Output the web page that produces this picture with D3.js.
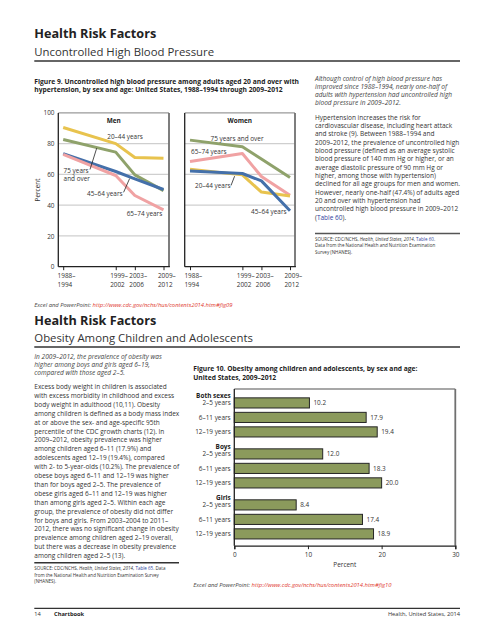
<!DOCTYPE html>
<html><head><meta charset="utf-8">
<script src="https://cdn.jsdelivr.net/npm/d3@7"></script>
<style>html,body{margin:0;padding:0;background:#fff;} svg{display:block;}</style>
</head><body>
<script>
// ---------------- DATA ----------------
const periods = ["1988–1994","1999–2002","2003–2006","2009–2012"];
const periodStart = [1988, 1999, 2003, 2009];
const ageLabels = ["20–44 years","45–64 years","65–74 years","75 years and over"];
const men_20_44 = [90.5, 80.0, 71.0, 70.5];
const men_45_64 = [73.5, 61.9, 57.1, 50.2];
const men_65_74 = [73.0, 59.3, 46.3, 37.0];
const men_75up  = [82.7, 74.5, 59.7, 49.5];
const women_20_44 = [63.4, 59.7, 48.5, 46.0];
const women_45_64 = [62.3, 60.6, 55.8, 36.4];
const women_65_74 = [68.4, 73.6, 58.6, 46.5];
const women_75up  = [82.3, 78.0, 70.0, 58.0];
const yTicks = [0, 20, 40, 60, 80, 100];

const obGroups = ["Both sexes", "Boys", "Girls"];
const obAges = ["2–5 years", "6–11 years", "12–19 years"];
const obBoth  = [10.2, 17.9, 19.4];
const obBoys  = [12.0, 18.3, 20.0];
const obGirls = [8.4, 17.4, 18.9];
const xTicksBar = [0, 10, 20, 30];

// ---------------- SETUP ----------------
const W = 494, H = 640;
const FONT = "'Open Sans', 'Noto Sans', sans-serif";
const svg = d3.select("body").append("svg").attr("width", W).attr("height", H);
svg.append("rect").attr("width", W).attr("height", H).attr("fill", "#fff");

function measure(str, weight, style) {
  const t = svg.append("text").attr("font-family", FONT).attr("font-size", 100)
    .attr("font-weight", weight || 400).attr("font-style", style || "normal").text(str);
  const w = t.node().getComputedTextLength(); t.remove(); return w;
}
function fit(str, target, weight, style) { return 100 * target / measure(str, weight, style); }

function txt(g, x, y, str, o) {
  o = o || {};
  return g.append("text").attr("x", x).attr("y", y).attr("font-family", FONT)
    .attr("font-size", o.size).attr("font-weight", o.weight || 400)
    .attr("font-style", o.style || "normal").attr("fill", o.fill || "#333")
    .attr("text-anchor", o.anchor || "start").text(str);
}
function rich(g, x, y, segs, size, baseStyle, baseFill) {
  const t = g.append("text").attr("x", x).attr("y", y).attr("font-family", FONT)
    .attr("font-size", size).attr("fill", baseFill || "#333").attr("font-style", baseStyle || "normal");
  segs.forEach(s => {
    const sp = t.append("tspan").text(s[0]);
    if (s[1] === "i") sp.attr("font-style", "italic");
    if (s[1] === "b") sp.attr("font-weight", 700);
    if (s[1] === "blue") sp.attr("fill", "#2f3f9e");
    if (s[1] === "red") sp.attr("fill", "#e0382e");
  });
  return t;
}
function hline(x1, x2, y, c, w) {
  svg.append("line").attr("x1", x1).attr("x2", x2).attr("y1", y).attr("y2", y).attr("stroke", c).attr("stroke-width", w);
}
function vline(x, y1, y2, c, w) {
  svg.append("line").attr("x1", x).attr("x2", x).attr("y1", y1).attr("y2", y2).attr("stroke", c).attr("stroke-width", w);
}

const sTitle = fit("Health Risk Factors", 122, 700);
const sSub = fit("Uncontrolled High Blood Pressure", 180);
const sCap = fit("Figure 9. Uncontrolled high blood pressure among adults aged 20 and over with", 265, 700);
const sBody = fit("with 2- to 5-year-olds (10.2%). The prevalence of", 145);
const sItal = fit("adults with hypertension had uncontrolled high", 137.3, 400, "italic");
const sSrc = fit("SOURCE: CDC/NCHS, Health, United States, 2014, Table 65. Data", 134.7);
const sAxis = fit("65–74 years", 35.6);
const sExcel = fit("Excel and PowerPoint: http://www.cdc.gov/nchs/hus/contents2014.htm#fig09", 198.4, 400, "italic");
const sFoot = fit("Health, United States, 2014", 72.3);

const L = 34.3, R = 460;

// ---------------- SECTION 1 HEADER ----------------
txt(svg, L, 38.3, "Health Risk Factors", {size: sTitle, weight: 700, fill: "#222"});
txt(svg, L, 55.5, "Uncontrolled High Blood Pressure", {size: sSub, fill: "#333"});
hline(L, R, 61, "#333", 1.3);
txt(svg, L, 83.5, "Figure 9. Uncontrolled high blood pressure among adults aged 20 and over with", {size: sCap, weight: 700, fill: "#222"});
txt(svg, L, 92.2, "hypertension, by sex and age: United States, 1988–1994 through 2009–2012", {size: sCap, weight: 700, fill: "#222"});

const rItal = ["Although control of high blood pressure has","improved since 1988–1994, nearly one-half of",
  "adults with hypertension had uncontrolled high","blood pressure in 2009–2012."];
rItal.forEach((s, i) => txt(svg, 315, 80.8 + i * 8.15, s, {size: sItal, style: "italic", fill: "#444"}));

const rBody = ["Hypertension increases the risk for","cardiovascular disease, including heart attack",
  "and stroke (9). Between 1988–1994 and","2009–2012, the prevalence of uncontrolled high",
  "blood pressure (defined as an average systolic","blood pressure of 140 mm Hg or higher, or an",
  "average diastolic pressure of 90 mm Hg or","higher, among those with hypertension)",
  "declined for all age groups for men and women.","However, nearly one-half (47.4%) of adults aged",
  "20 and over with hypertension had","uncontrolled high blood pressure in 2009–2012"];
rBody.forEach((s, i) => txt(svg, 315, 119.5 + i * 8.35, s, {size: sBody, fill: "#333"}));
rich(svg, 315, 119.5 + 12 * 8.35, [["(", ""], ["Table 60", "blue"], [").", ""]], sBody);

hline(315, R, 233.5, "#555", 1.5);
rich(svg, 315, 241, [["SOURCE: CDC/NCHS, ", ""], ["Health, United States, 2014", "i"], [", ", ""], ["Table 60", "blue"], [".", ""]], sSrc);
txt(svg, 315, 247.3, "Data from the National Health and Nutrition Examination", {size: sSrc});
txt(svg, 315, 253.6, "Survey (NHANES).", {size: sSrc});

// ---------------- LINE CHARTS ----------------
const y = d3.scaleLinear().domain([0, 100]).range([266.7, 112.9]);
const colors = {"20–44 years": "#e8c34e", "45–64 years": "#4470aa", "65–74 years": "#f0a2a3", "75 years and over": "#8fa26b"};
const panels = [
  {name: "Men", x0: 58.3, x1: 169, d0: 63.2, d1: 163.5,
   series: [["75 years and over", men_75up], ["20–44 years", men_20_44], ["45–64 years", men_45_64], ["65–74 years", men_65_74]]},
  {name: "Women", x0: 184.7, x1: 295, d0: 190, d1: 290,
   series: [["75 years and over", women_75up], ["65–74 years", women_65_74], ["20–44 years", women_20_44], ["45–64 years", women_45_64]]}
];
panels.forEach((p, pi) => {
  const x = d3.scaleLinear().domain([1988, 2009]).range([p.d0, p.d1]);
  const g = svg.append("g");
  g.selectAll("line.grid").data(yTicks.filter(t => t > 0 && t < 100)).enter().append("line")
    .attr("x1", p.x0).attr("x2", p.x1).attr("y1", d => y(d)).attr("y2", d => y(d))
    .attr("stroke", "#cfcfcf").attr("stroke-width", 1.2);
  hline(p.x0, p.x1, y(100), "#9a9a9a", 1.3);
  vline(p.x1, y(100), y(0), "#707070", 1.8);
  vline(p.x0, y(100), y(0), "#222", 1.3);
  hline(p.x0, p.x1 + 0.9, y(0), "#222", 1.3);
  const ax = g.append("g").attr("transform", `translate(0,${y(0)})`)
    .call(d3.axisBottom(x).tickValues(periodStart).tickSize(3.5).tickFormat(""));
  ax.select(".domain").remove();
  ax.selectAll(".tick line").attr("stroke", "#222").attr("stroke-width", 1);
  periodStart.forEach((yr, i) => {
    const parts = periods[i].split("–");
    txt(g, x(yr) - 5.6, 277.6, parts[0] + "–", {size: sAxis, fill: "#333"});
    txt(g, x(yr) - 5.6, 286.6, parts[1], {size: sAxis, fill: "#333"});
  });
  const line = d3.line().x((d, i) => x(periodStart[i])).y(d => y(d));
  p.series.forEach(s => {
    g.append("path").datum(s[1]).attr("d", line).attr("fill", "none")
      .attr("stroke", colors[s[0]]).attr("stroke-width", 3).attr("stroke-linejoin", "round");
  });
  txt(g, (p.x0 + p.x1) / 2, 122.8, p.name, {size: sAxis, weight: 700, anchor: "middle", fill: "#222"});
});
const ay = svg.append("g").attr("transform", "translate(58.3,0)")
  .call(d3.axisLeft(y).tickValues(yTicks).tickSize(0).tickPadding(3.8));
ay.select(".domain").remove();
ay.selectAll("text").attr("font-family", FONT).attr("font-size", sAxis).attr("fill", "#333");
svg.append("text").attr("transform", "translate(39.5,190) rotate(-90)").attr("text-anchor", "middle")
  .attr("font-family", FONT).attr("font-size", sAxis).attr("fill", "#333").text("Percent");

const lab = (x, yb, s) => txt(svg, x, yb, s, {size: sAxis, fill: "#333"});
const lead = (x1, y1, x2, y2) => svg.append("line").attr("x1", x1).attr("y1", y1).attr("x2", x2).attr("y2", y2).attr("stroke", "#222").attr("stroke-width", 0.8);
lab(107.3, 138.6, "20–44 years");
lab(63.6, 173.2, "75 years");
lab(63.6, 181, "and over");
lead(90, 169.5, 96.7, 148.2);
lab(87, 195.8, "45–64 years");
lead(123.6, 192.3, 129.6, 178.6);
lab(126.7, 215.6, "65–74 years");
lab(210.5, 140.6, "75 years and over");
lab(191, 154.2, "65–74 years");
lab(195, 187.6, "20–44 years");
lead(231, 185.5, 234.6, 176.2);
lab(251, 214.2, "45–64 years");

rich(svg, L, 307.3, [["Excel and PowerPoint: ", ""], ["http://www.cdc.gov/nchs/hus/contents2014.htm#fig09", "red"]], sExcel, "italic", "#444");

// ---------------- SECTION 2 HEADER ----------------
txt(svg, L, 325.3, "Health Risk Factors", {size: sTitle, weight: 700, fill: "#222"});
txt(svg, L, 342, "Obesity Among Children and Adolescents", {size: sSub, fill: "#333"});
hline(L, R, 347, "#333", 1.3);

const lItal = ["In 2009–2012, the prevalence of obesity was","higher among boys and girls aged 6–19,","compared with those aged 2–5."];
lItal.forEach((s, i) => txt(svg, L, 358.6 + i * 8.35, s, {size: sItal, style: "italic", fill: "#444"}));
const lBody = ["Excess body weight in children is associated","with excess morbidity in childhood and excess",
  "body weight in adulthood (10,11). Obesity","among children is defined as a body mass index",
  "at or above the sex- and age-specific 95th","percentile of the CDC growth charts (12). In",
  "2009–2012, obesity prevalence was higher","among children aged 6–11 (17.9%) and",
  "adolescents aged 12–19 (19.4%), compared","with 2- to 5-year-olds (10.2%). The prevalence of",
  "obese boys aged 6–11 and 12–19 was higher","than for boys aged 2–5. The prevalence of",
  "obese girls aged 6–11 and 12–19 was higher","than among girls aged 2–5. Within each age",
  "group, the prevalence of obesity did not differ","for boys and girls. From 2003–2004 to 2011–",
  "2012, there was no significant change in obesity","prevalence among children aged 2–19 overall,",
  "but there was a decrease in obesity prevalence","among children aged 2–5 (13)."];
lBody.forEach((s, i) => txt(svg, L, 389 + i * 8.9, s, {size: sBody, fill: "#333"}));
hline(L, 179, 562.7, "#333", 1.5);
rich(svg, L, 570.2, [["SOURCE: CDC/NCHS, ", ""], ["Health, United States, 2014", "i"], [", ", ""], ["Table 65", "blue"], [". Data", ""]], sSrc);
txt(svg, L, 576.8, "from the National Health and Nutrition Examination Survey", {size: sSrc});
txt(svg, L, 583.4, "(NHANES).", {size: sSrc});

txt(svg, 193.3, 371, "Figure 10. Obesity among children and adolescents, by sex and age:", {size: sCap, weight: 700, fill: "#222"});
txt(svg, 193.3, 379.7, "United States, 2009–2012", {size: sCap, weight: 700, fill: "#222"});

// ---------------- BAR CHART ----------------
const xb = d3.scaleLinear().domain([0, 30]).range([234.3, 455.3]);
const yg = d3.scaleBand().domain(obGroups).range([393.5, 543.3]).paddingInner(0.062).paddingOuter(0);
const ya = d3.scaleBand().domain(obAges).range([0, yg.bandwidth()]).paddingInner(0.3).paddingOuter(0.3);
const barTop = 389, barBot = 545.7;
hline(xb(0), xb(30), barTop, "#8a8a8a", 1.3);
vline(xb(30), barTop, barBot, "#707070", 1.8);
const obValues = {"Both sexes": obBoth, "Boys": obBoys, "Girls": obGirls};
const bg = svg.append("g");
obGroups.forEach(gr => {
  const rows = obAges.map((a, i) => ({group: gr, age: a, v: obValues[gr][i]}));
  const gg = bg.append("g").attr("transform", `translate(0,${yg(gr)})`);
  gg.selectAll("rect").data(rows).enter().append("rect")
    .attr("x", xb(0)).attr("y", d => ya(d.age)).attr("width", d => xb(d.v) - xb(0)).attr("height", ya.bandwidth())
    .attr("fill", "#8b9a5c").attr("stroke", "#262626").attr("stroke-width", 1);
  gg.selectAll("text.val").data(rows).enter().append("text")
    .attr("x", d => xb(d.v) + 4).attr("y", d => ya(d.age) + ya.bandwidth() / 2 + sAxis * 0.35)
    .attr("font-family", FONT).attr("font-size", sAxis).attr("fill", "#333").text(d => d.v.toFixed(1));
  gg.selectAll("text.cat").data(rows).enter().append("text")
    .attr("x", 230.7).attr("y", d => ya(d.age) + ya.bandwidth() / 2 + sAxis * 0.35).attr("text-anchor", "end")
    .attr("font-family", FONT).attr("font-size", sAxis).attr("fill", "#333").text(d => d.age);
  gg.append("text").attr("x", 230.7).attr("y", ya(obAges[0]) + ya.bandwidth() / 2 - 5.4).attr("text-anchor", "end")
    .attr("font-family", FONT).attr("font-size", sAxis).attr("font-weight", 700).attr("fill", "#222").text(gr);
});
vline(xb(0), barTop, barBot, "#222", 1.3);
const axb = svg.append("g").attr("transform", `translate(0,${barBot})`)
  .call(d3.axisBottom(xb).tickValues(xTicksBar).tickSize(3.5).tickPadding(3));
axb.select(".domain").attr("stroke", "#222").attr("stroke-width", 1.3);
axb.selectAll(".tick line").attr("stroke", "#222");
axb.selectAll("text").attr("font-family", FONT).attr("font-size", sAxis).attr("fill", "#333");
txt(svg, (xb(0) + xb(30)) / 2, 567.2, "Percent", {size: sAxis, anchor: "middle"});

rich(svg, 193.3, 587.2, [["Excel and PowerPoint: ", ""], ["http://www.cdc.gov/nchs/hus/contents2014.htm#fig10", "red"]], sExcel, "italic", "#444");

// ---------------- FOOTER ----------------
hline(L, R, 608.3, "#333", 1.3);
txt(svg, L, 615.8, "14", {size: sFoot, fill: "#333"});
txt(svg, 54, 615.8, "Chartbook", {size: sFoot, weight: 700, fill: "#222"});
txt(svg, R, 615.8, "Health, United States, 2014", {size: sFoot, anchor: "end", fill: "#333"});
</script>
</body></html>
